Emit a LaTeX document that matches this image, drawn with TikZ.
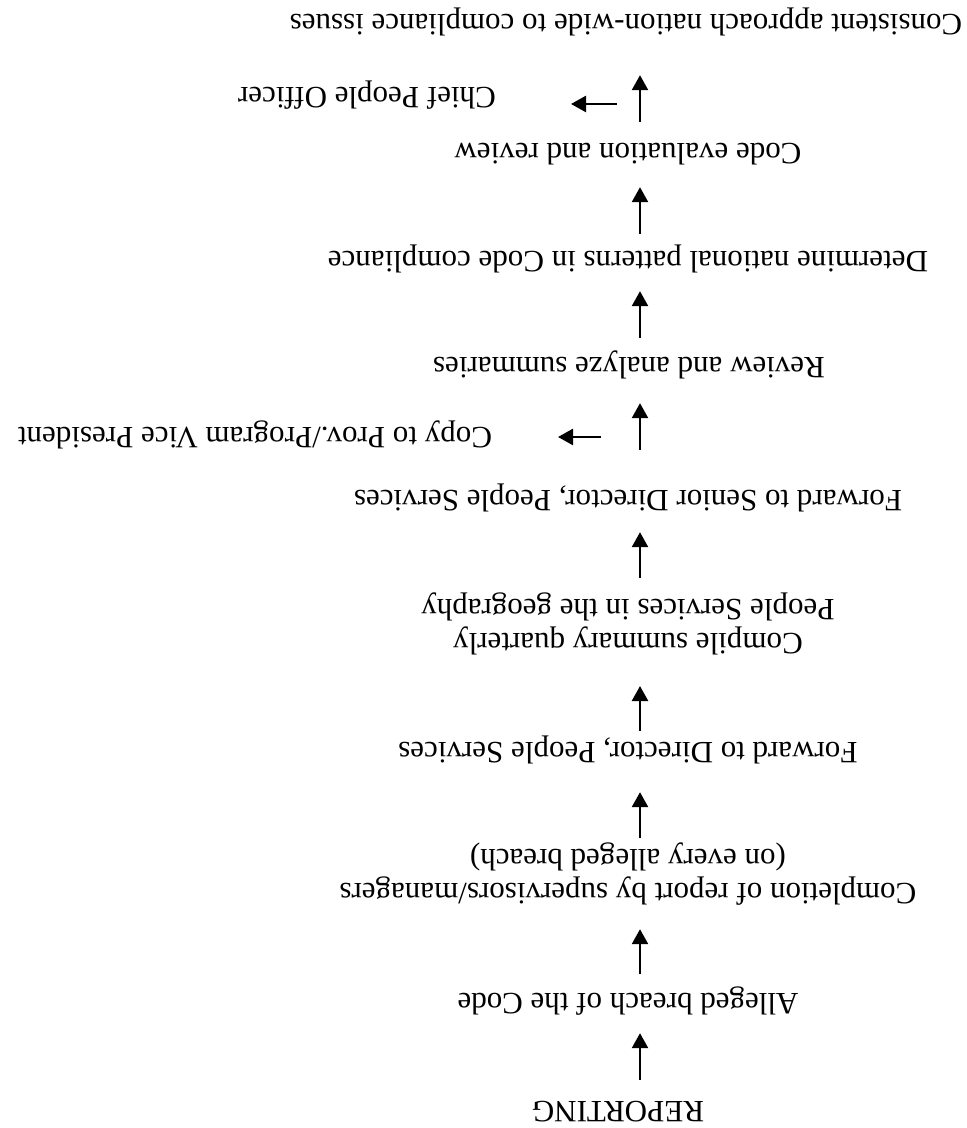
\documentclass[tikz,border=0pt]{standalone}
\usepackage{fontspec}
\setmainfont{Liberation Serif}
\usetikzlibrary{arrows.meta}
\begin{document}
\begin{tikzpicture}[x=1pt,y=1pt,
  base/.style={rotate=180, inner sep=0pt, align=center, font=\fontsize{31}{34}\selectfont},
  lbl/.style={base, text height=21.7pt, text depth=6.8pt},
  lbltwo/.style={base},
  arr/.style={-{Triangle[length=15pt,width=16pt]}, line width=2.5pt}]
\useasboundingbox (0,0) rectangle (967,1128);
% text nodes (the whole picture is upside down)
\node[lbl] (cons)   at (626,1106) {Consistent approach nation-wide to compliance issues};
\node[lbl] (chief)  at (367,1033) {Chief People Officer};
\node[lbl] (code)   at (628,977)  {Code evaluation and review};
\node[lbl] (determ) at (628,869)  {Determine national patterns in Code compliance};
\node[lbl] (review) at (629,763)  {Review and analyze summaries};
\node[lbl] (copy)   at (255,693)  {Copy to Prov./Program Vice President};
\node[lbl] (fsen)   at (628,630)  {Forward to Senior Director, People Services};
\node[lbltwo] (comp)  at (628,504) {Compile summary quarterly\\People Services in the geography};
\node[lbl] (fdir)   at (628,378)  {Forward to Director, People Services};
\node[lbltwo] (compl) at (628,254) {Completion of report by supervisors/managers\\(on every alleged breach)};
\node[lbl] (alleg)  at (628,127)  {Alleged breach of the Code};
\node[lbl] (rep)    at (618,19)   {REPORTING};
\coordinate (ax) at (640,0);
% vertical arrows, node to node
\draw[arr, shorten <=14.75pt, shorten >=17.75pt] (rep.south -| ax)    -- (alleg.north -| ax);
\draw[arr, shorten <=12.75pt] (alleg.south -| ax) -- ([yshift=-23.75pt]compl.north -| ax);
\draw[arr, shorten >=27.75pt] ([yshift=4.75pt]compl.south -| ax) -- (fdir.north -| ax);
\draw[arr, shorten <=4.75pt] (fdir.south -| ax) -- ([yshift=-30.75pt]comp.north -| ax);
\draw[arr, shorten >=19.75pt] ([yshift=14.75pt]comp.south -| ax) -- (fsen.north -| ax);
\draw[arr, shorten <=33.75pt, shorten >=23.75pt] (fsen.south -| ax)   -- (review.north -| ax);
\draw[arr, shorten <=12.75pt, shorten >=17.75pt] (review.south -| ax) -- (determ.north -| ax);
\draw[arr, shorten <=10.75pt, shorten >=21.75pt] (determ.south -| ax) -- (code.north -| ax);
\draw[arr, shorten <=14.75pt, shorten >=38.75pt] (code.south -| ax)   -- (cons.north -| ax);
% side arrows towards the copied offices
\coordinate (s1a) at (617,1024);
\coordinate (s1b) at (571,1024);
\coordinate (s2a) at (601,691);
\coordinate (s2b) at (558,691);
\draw[arr] (s1a) -- (s1b);
\draw[arr] (s2a) -- (s2b);
\end{tikzpicture}
\end{document}
